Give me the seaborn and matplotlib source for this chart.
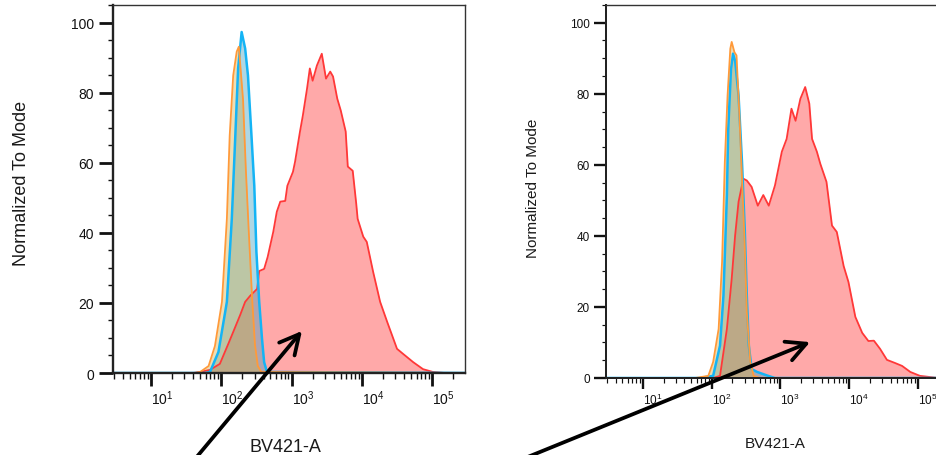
import matplotlib
matplotlib.use("Agg")
import numpy as np
import pandas as pd
import seaborn as sns
import matplotlib.pyplot as plt
from matplotlib.ticker import LogLocator, LogFormatterMathtext, MultipleLocator, NullFormatter

# ---------------- data (x in log10 decades, y = % of mode) ----------------
left_red_log = [0.46, 1.60, 1.70, 1.84, 1.98, 2.10, 2.17, 2.27, 2.34, 2.41, 2.51, 2.54, 2.61, 2.66,
                2.74, 2.79, 2.84, 2.91, 2.94, 2.98, 3.02, 3.05, 3.12, 3.16, 3.22, 3.26, 3.30, 3.36,
                3.43, 3.49, 3.55, 3.59, 3.65, 3.70, 3.77, 3.80, 3.87, 3.92, 3.94, 4.02, 4.07, 4.16,
                4.26, 4.36, 4.50, 4.59, 4.73, 4.87, 5.01, 5.18, 5.47]
left_red_val = [0, 0, 0.3, 0.9, 2.6, 8.3, 11.7, 16.6, 20.3, 22.0, 24.0, 29.1, 29.7, 33.1,
                40.3, 46.0, 48.9, 49.1, 53.4, 55.4, 57.4, 60.3, 68.9, 73.4, 81.1, 86.9, 83.4, 87.7,
                91.1, 84.0, 86.0, 84.6, 78.3, 74.9, 68.9, 58.9, 57.7, 48.3, 44.0, 38.9, 37.4, 28.9,
                20.3, 14.6, 6.9, 5.4, 3.1, 1.1, 0.3, 0, 0]

left_blue_log = [0.46, 1.77, 1.84, 1.96, 2.08, 2.15, 2.20, 2.24, 2.29, 2.34, 2.38, 2.43, 2.47,
                 2.50, 2.54, 2.58, 2.61, 2.65, 5.47]
left_blue_val = [0, 0, 0.3, 6.0, 20.3, 44.0, 67.7, 86.9, 97.3, 92.6, 84.9, 67.7, 53.4,
                 34.6, 20.3, 9.7, 3.1, 0.3, 0]

left_orange_log = [0.46, 1.63, 1.70, 1.82, 1.91, 2.01, 2.08, 2.12, 2.17, 2.22, 2.25, 2.31, 2.35,
                   2.39, 2.44, 2.48, 2.52, 2.57, 5.47]
left_orange_val = [0, 0, 0.3, 2.0, 7.7, 20.3, 44.0, 67.7, 84.9, 91.7, 93.1, 78.0, 58.0,
                   41.0, 21.0, 8.0, 2.0, 0.3, 0]

right_red_log = [0.46, 2.02, 2.12, 2.22, 2.29, 2.34, 2.39, 2.46, 2.51, 2.58, 2.67, 2.75, 2.83, 2.92,
                 3.02, 3.09, 3.16, 3.22, 3.29, 3.36, 3.42, 3.46, 3.53, 3.58, 3.67, 3.75, 3.82, 3.92,
                 3.99, 4.09, 4.19, 4.28, 4.36, 4.45, 4.55, 4.67, 4.77, 4.89, 5.03, 5.25, 5.47]
right_red_val = [0, 0, 0.6, 13.8, 27.9, 40.1, 49.6, 56.1, 55.6, 53.8, 48.5, 51.5, 48.5, 54.2,
                 63.7, 67.3, 75.8, 72.4, 78.6, 81.9, 77.2, 67.3, 63.7, 60.3, 55.2, 42.9, 41.1, 31.5,
                 27.0, 17.2, 12.7, 10.4, 10.5, 8.2, 5.1, 4.2, 3.4, 1.7, 0.6, 0.1, 0]

right_blue_log = [0.46, 1.83, 2.02, 2.12, 2.17, 2.22, 2.24, 2.28, 2.31, 2.34, 2.39, 2.44, 2.48,
                  2.51, 2.54, 2.58, 2.66, 2.82, 2.92, 5.47]
right_blue_val = [0, 0, 0.6, 9.1, 23.2, 51.4, 70.1, 87.0, 91.3, 89.3, 79.5, 60.8, 42.0,
                  23.2, 9.1, 2.5, 1.7, 0.6, 0, 0]

right_orange_log = [0.46, 1.76, 1.95, 2.02, 2.10, 2.15, 2.19, 2.23, 2.27, 2.29, 2.33, 2.36, 2.40,
                    2.44, 2.48, 2.51, 2.56, 2.61, 2.70, 5.47]
right_orange_val = [0, 0, 0.6, 4.5, 13.8, 32.7, 60.8, 79.5, 92.7, 94.6, 91.7, 90.8, 74.9,
                    56.1, 37.3, 18.6, 4.5, 0.6, 0, 0]

x_limits_log = (0.46, 5.467)
y_ticks = [0, 20, 40, 60, 80, 100]
x_label = "BV421-A"
y_label = "Normalized To Mode"

# arrow tips (data: log10 x, % of mode)
left_arrow_tip = (3.148, 12.0)
right_arrow_tip = (3.431, 10.1)

# ---------------- styling ----------------
sns.set_style("ticks")
plt.rcParams["font.family"] = ["Liberation Sans", "DejaVu Sans"]
plt.rcParams["mathtext.default"] = "regular"

RED_LINE, RED_FILL = "#FF3838", "#FF3333"
BLUE_LINE, BLUE_FILL = "#14B4F5", (60 / 255, 160 / 255, 190 / 255)
ORANGE_LINE, ORANGE_FILL = "#FF9A3A", (210 / 255, 175 / 255, 75 / 255)
TXT = "#1a1a1a"

fig = plt.figure(figsize=(9.36, 4.56), dpi=100)
ax1 = fig.add_axes([0.1207, 0.1798, 0.3761, 0.807])
ax2 = fig.add_axes([0.6474, 0.1689, 0.3675, 0.818])


def panel(ax, red, blue, orange, scale, tick_fs, lab_fs, xlab_y, ylab_x, xlab_x, ylab_y):
    ax.set_xscale("log")
    series = [
        (red, RED_LINE, RED_FILL, 0.42, 1.3),
        (blue, BLUE_LINE, BLUE_FILL, 0.41, 1.8),
        (orange, ORANGE_LINE, ORANGE_FILL, 0.41, 1.3),
    ]
    for (lg, val), lc, fc, fa, lw in series:
        df = pd.DataFrame({"x": 10 ** np.array(lg, dtype=float), "y": np.array(val, dtype=float)})
        ax.fill_between(df["x"], 0, df["y"], color=fc, alpha=fa, lw=0)
        sns.lineplot(data=df, x="x", y="y", ax=ax, color=lc, lw=lw,
                     estimator=None, sort=False)
    ax.set_xlim(10 ** x_limits_log[0], 10 ** x_limits_log[1])
    ax.set_ylim(0, 105)
    ax.set_yticks(y_ticks)
    ax.yaxis.set_minor_locator(MultipleLocator(5))
    ax.xaxis.set_major_locator(LogLocator(base=10, numticks=12))
    ax.xaxis.set_minor_locator(LogLocator(base=10, subs=np.arange(2, 10), numticks=40))
    ax.xaxis.set_major_formatter(LogFormatterMathtext())
    ax.xaxis.set_minor_formatter(NullFormatter())

    for s in ["left", "bottom"]:
        ax.spines[s].set_linewidth(1.7 * scale)
        ax.spines[s].set_color("#222222")
    for s in ["top", "right"]:
        ax.spines[s].set_linewidth(1.0)
        ax.spines[s].set_color("#333333")

    ax.tick_params(axis="x", which="major", direction="out", length=9 * scale, width=2.0 * scale,
                   pad=2, labelsize=tick_fs, colors="#111111", bottom=True, top=False)
    ax.tick_params(axis="x", which="minor", direction="out", length=4.3 * scale, width=1.0 * scale,
                   bottom=True, top=False, colors="#111111")
    ax.tick_params(axis="y", which="major", direction="out", length=9.8 * scale, width=2.0 * scale,
                   pad=3.8 * scale, labelsize=tick_fs, colors="#111111", left=True, right=False)
    ax.tick_params(axis="y", which="minor", direction="out", length=3.8 * scale, width=1.0 * scale,
                   left=True, right=False, colors="#111111")
    plt.setp(ax.get_xticklabels(), ha="left")

    ax.set_xlabel(x_label, fontsize=lab_fs, color=TXT)
    ax.set_ylabel(y_label, fontsize=lab_fs, color=TXT)
    ax.xaxis.set_label_coords(xlab_x, xlab_y)
    ax.yaxis.set_label_coords(ylab_x, ylab_y)


panel(ax1, (left_red_log, left_red_val), (left_blue_log, left_blue_val),
      (left_orange_log, left_orange_val), 1.0, 10, 13, -0.177, -0.236, 0.489, 0.519)
panel(ax2, (right_red_log, right_red_val), (right_blue_log, right_blue_val),
      (right_orange_log, right_orange_val), 0.85, 8.5, 11, -0.155, -0.192, 0.491, 0.512)

arrow_props = dict(arrowstyle="->,head_length=1.4,head_width=0.72", lw=2.7, color="black",
                   shrinkA=0, shrinkB=0, mutation_scale=10)
ax1.annotate("", xy=(10 ** left_arrow_tip[0], left_arrow_tip[1]), xycoords="data",
             xytext=(190, -10), textcoords="figure pixels",
             arrowprops=arrow_props, annotation_clip=False)
ax2.annotate("", xy=(10 ** right_arrow_tip[0], right_arrow_tip[1]), xycoords="data",
             xytext=(508, -10), textcoords="figure pixels",
             arrowprops=arrow_props, annotation_clip=False)

fig.savefig("out.png", dpi=100)
